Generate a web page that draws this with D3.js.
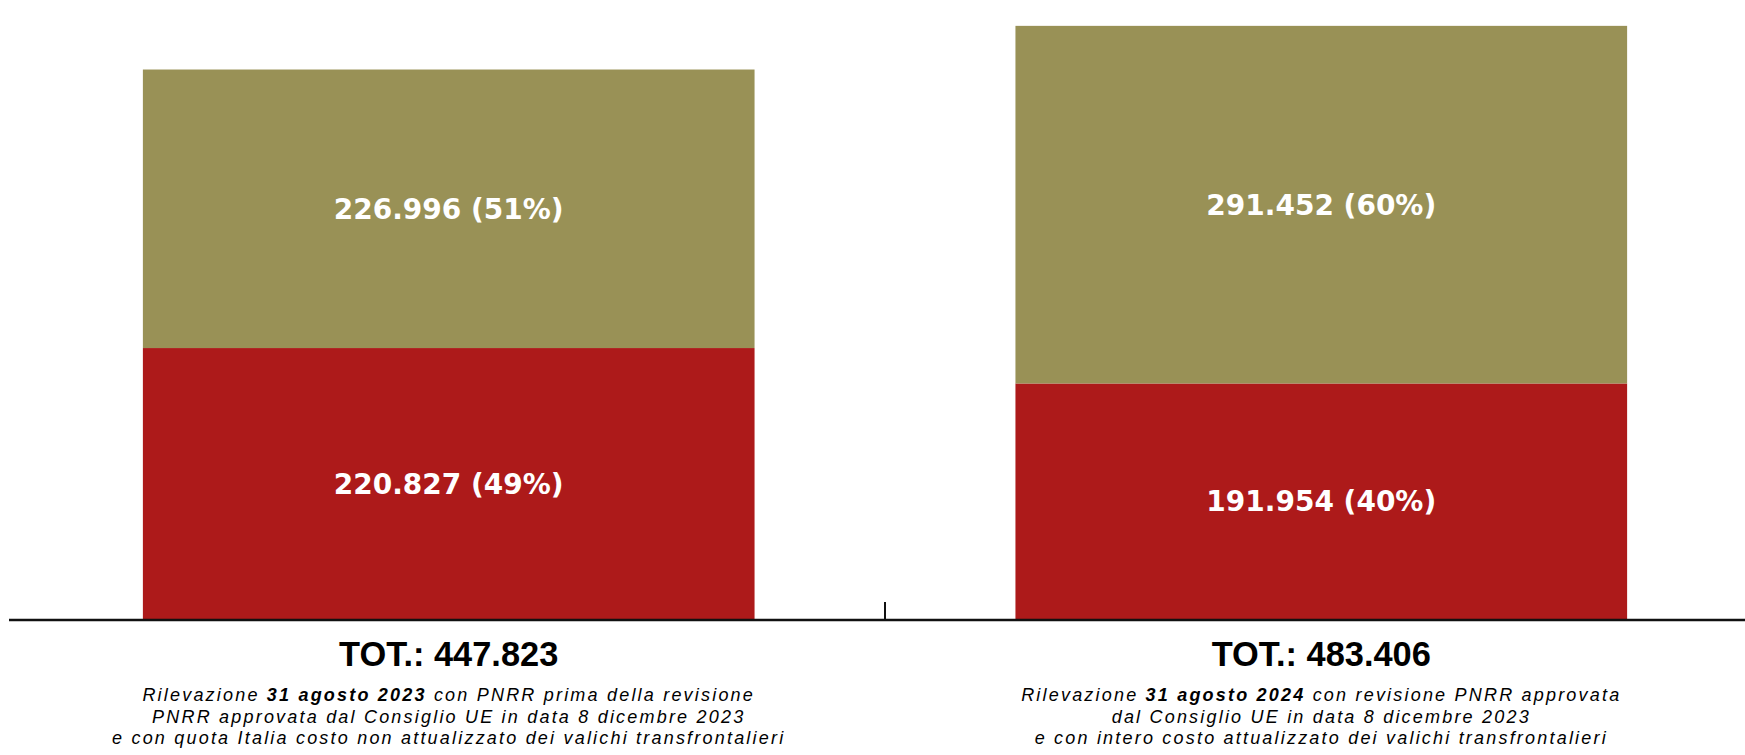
<!DOCTYPE html>
<html>
<head>
<meta charset="utf-8">
<script src="https://cdn.jsdelivr.net/npm/d3@7"></script>
<style>
  html, body { margin: 0; padding: 0; background: #ffffff; }
  svg { display: block; }
</style>
</head>
<body>
<svg id="chart" width="1745" height="755"></svg>
<script>
// ---- data ----
const categories = ["31 agosto 2023", "31 agosto 2024"];
const seriesKeys = ["quotaA", "quotaB"];
const quotaA = [220827, 191954];   // red, bottom
const quotaB = [226996, 291452];   // olive, top
const seriesColors = ["#ad1a1a", "#999156"];
const totalLabelPrefix = "TOT.: ";
const notes = [
  [
    [["Rilevazione ", false], ["31 agosto 2023", true], [" con PNRR prima della revisione", false]],
    [["PNRR approvata dal Consiglio UE in data 8 dicembre 2023", false]],
    [["e con quota Italia costo non attualizzato dei valichi transfrontalieri", false]]
  ],
  [
    [["Rilevazione ", false], ["31 agosto 2024", true], [" con revisione PNRR approvata", false]],
    [["dal Consiglio UE in data 8 dicembre 2023", false]],
    [["e con intero costo attualizzato dei valichi transfrontalieri", false]]
  ]
];

// ---- build ----
const table = categories.map((c, i) => ({ cat: c, quotaA: quotaA[i], quotaB: quotaB[i] }));
const totals = table.map(d => d.quotaA + d.quotaB);

const it = d3.formatLocale({ decimal: ",", thousands: ".", grouping: [3], currency: ["€", ""] });
const fmt = it.format(",d");

const svg = d3.select("#chart");

const x = d3.scaleBand()
  .domain(categories)
  .range([12, 1758])
  .paddingInner(0.299)
  .paddingOuter(0.15);

const y = d3.scaleLinear()
  .domain([0, 500000])
  .range([619, 5.5]);

const color = d3.scaleOrdinal().domain(seriesKeys).range(seriesColors);

const stacked = d3.stack().keys(seriesKeys)(table);

const layers = svg.append("g").selectAll("g")
  .data(stacked)
  .join("g")
  .attr("fill", d => color(d.key));

layers.selectAll("rect")
  .data(d => d)
  .join("rect")
  .attr("x", d => x(d.data.cat))
  .attr("y", d => y(d[1]))
  .attr("width", x.bandwidth())
  .attr("height", d => y(d[0]) - y(d[1]));

// segment labels
const labelG = svg.append("g");
stacked.forEach(layer => {
  layer.forEach((d, i) => {
    const v = d[1] - d[0];
    const pct = Math.round(100 * v / totals[i]);
    labelG.append("text")
      .attr("x", x(d.data.cat) + x.bandwidth() / 2)
      .attr("y", (y(d[0]) + y(d[1])) / 2)
      .attr("dy", "0.36em")
      .attr("text-anchor", "middle")
      .attr("fill", "#ffffff")
      .attr("font-family", "'DejaVu Sans', sans-serif")
      .attr("font-weight", "bold")
      .attr("font-size", 28)
      .text(`${fmt(v)} (${pct}%)`);
  });
});

// axis baseline
const axisY = 620;
svg.append("line")
  .attr("x1", 9).attr("x2", 1745)
  .attr("y1", axisY).attr("y2", axisY)
  .attr("stroke", "#111").attr("stroke-width", 2.5);

// separator tick between categories
const sepX = x(categories[1]) - x.step() * x.paddingInner() / 2;
svg.append("line")
  .attr("x1", sepX).attr("x2", sepX)
  .attr("y1", 602).attr("y2", axisY)
  .attr("stroke", "#111").attr("stroke-width", 2);

// totals and notes
categories.forEach((c, i) => {
  const cx = x(c) + x.bandwidth() / 2;
  svg.append("text")
    .attr("x", cx)
    .attr("y", 666)
    .attr("text-anchor", "middle")
    .attr("fill", "#000")
    .attr("font-family", "'Liberation Sans', Arial, sans-serif")
    .attr("font-weight", "bold")
    .attr("font-size", 34.4)
    .text(totalLabelPrefix + fmt(totals[i]));

  notes[i].forEach((line, j) => {
    const t = svg.append("text")
      .attr("x", cx)
      .attr("y", 701 + j * 21.5)
      .attr("text-anchor", "middle")
      .attr("fill", "#000")
      .attr("font-family", "'Liberation Sans', Arial, sans-serif")
      .attr("font-style", "italic")
      .attr("font-size", 18)
      .attr("letter-spacing", 2.2);
    line.forEach(([s, b]) => {
      t.append("tspan")
        .attr("font-weight", b ? "bold" : "normal")
        .text(s);
    });
  });
});
</script>
</body>
</html>
